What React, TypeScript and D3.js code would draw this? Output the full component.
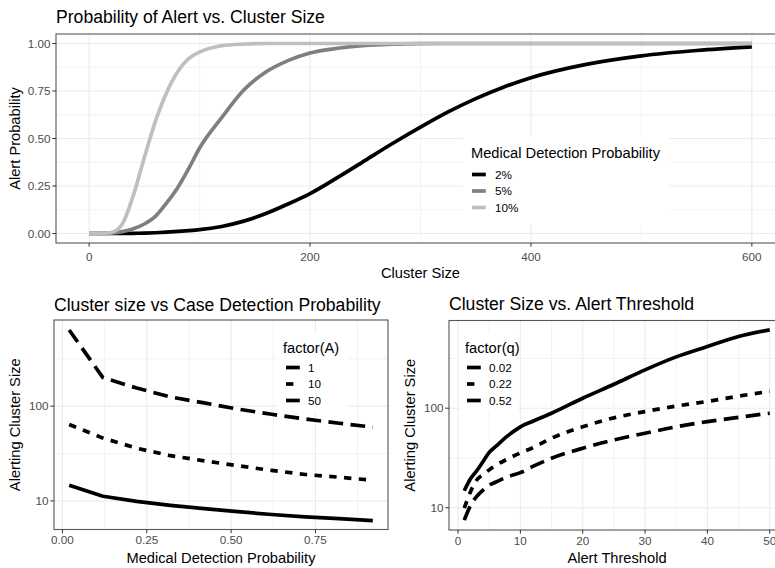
import * as d3 from "d3";

// --- top: probability of alert vs cluster size ---
const clusterSize = [0, 10, 20, 30, 40, 50, 60, 70, 80, 90, 100, 120, 140, 160, 180, 200, 225, 250, 275, 300, 325, 350, 375, 400, 450, 500, 550, 600];
const alertProb2 = [0, 0, 0, 0, 0.001, 0.002, 0.004, 0.007, 0.011, 0.015, 0.02, 0.037, 0.065, 0.105, 0.155, 0.21, 0.295, 0.385, 0.475, 0.56, 0.64, 0.71, 0.77, 0.82, 0.89, 0.935, 0.963, 0.982];
const alertProb5 = [0, 0, 0.002, 0.01, 0.025, 0.05, 0.09, 0.16, 0.24, 0.34, 0.45, 0.61, 0.755, 0.85, 0.91, 0.95, 0.975, 0.99, 0.996, 0.999, 1, 1, 1, 1, 1, 1, 1, 1];
const alertProb10 = [0, 0, 0.005, 0.05, 0.2, 0.4, 0.59, 0.74, 0.85, 0.92, 0.955, 0.988, 0.997, 1, 1, 1, 1, 1, 1, 1, 1, 1, 1, 1, 1, 1, 1, 1];
const detectionLabels = ["2%", "5%", "10%"];

// --- bottom left: cluster size vs detection probability ---
const detectionProb = [0.02, 0.12, 0.22, 0.32, 0.42, 0.52, 0.62, 0.72, 0.82, 0.92];
const clusterA1 = [14.6, 11.2, 9.9, 9.0, 8.3, 7.7, 7.2, 6.8, 6.5, 6.2];
const clusterA10 = [64, 46, 36, 30, 26.5, 23.5, 21, 19, 17.8, 16.5];
const clusterA50 = [635, 200, 155, 125, 108, 93, 82, 73, 66, 60];
const factorALabels = ["1", "10", "50"];

// --- bottom right: cluster size vs alert threshold ---
const alertThreshold = [1, 2, 3, 4, 5, 6, 8, 10, 12, 15, 20, 25, 30, 35, 40, 45, 50];
const clusterQ02 = [14.8, 19.5, 23.5, 29, 36, 41, 53, 65, 74, 89, 126, 174, 243, 328, 417, 525, 613];
const clusterQ22 = [9.9, 14.5, 19, 21.5, 24, 26.5, 31, 35.5, 40, 50, 65, 80, 92.5, 105, 117, 132, 148];
const clusterQ52 = [7.5, 10.5, 13, 15, 16.9, 18, 20.5, 22.5, 26, 31.4, 39.6, 48, 56, 65, 73.3, 81, 89];
const factorQLabels = ["0.02", "0.22", "0.52"];

const FONT = "'Liberation Sans', Arial, sans-serif";
const LW = 3.7;
const DASHES = ["none", "7.4 7.4", "14.8 7.4"];

type Series = { xs: number[]; ys: number[]; color: string; dash: string };

type PanelProps = {
  box: [number, number, number, number]; // left, top, right, bottom
  x: any;
  y: any;
  curve: any;
  xTicks: number[];
  xMinor: number[];
  yTicks: number[];
  yMinor: number[];
  xFmt: (v: number) => string;
  yFmt: (v: number) => string;
  xLabelY: number;
  title: string;
  titleY: number;
  xTitle: string;
  xTitleY: number;
  yTitle: string;
  yTitleX: number;
  series: Series[];
  legend: {
    title: string;
    labels: string[];
    bg: [number, number, number, number];
    titleX: number;
    titleY: number;
    keyX: number;
    keyY: number[];
    labelX: number;
  };
};

function Panel(p: PanelProps) {
  const [l, t, r, b] = p.box;
  const line = d3.line<[number, number]>()
    .x((d) => p.x(d[0]))
    .y((d) => p.y(d[1]))
    .curve(p.curve);
  const lg = p.legend;
  return (
    <g>
      <rect x={l} y={t} width={r - l} height={b - t} fill="white" />
      {p.xMinor.map((v) => (
        <line key={"xm" + v} x1={p.x(v)} x2={p.x(v)} y1={t} y2={b} stroke="#EBEBEB" strokeWidth={0.6} />
      ))}
      {p.yMinor.map((v) => (
        <line key={"ym" + v} x1={l} x2={r} y1={p.y(v)} y2={p.y(v)} stroke="#EBEBEB" strokeWidth={0.6} />
      ))}
      {p.xTicks.map((v) => (
        <line key={"xg" + v} x1={p.x(v)} x2={p.x(v)} y1={t} y2={b} stroke="#EBEBEB" strokeWidth={1.1} />
      ))}
      {p.yTicks.map((v) => (
        <line key={"yg" + v} x1={l} x2={r} y1={p.y(v)} y2={p.y(v)} stroke="#EBEBEB" strokeWidth={1.1} />
      ))}
      {p.series.map((s, i) => (
        <path
          key={"s" + i}
          d={line(s.xs.map((xv, j) => [xv, s.ys[j]] as [number, number])) || ""}
          fill="none"
          stroke={s.color}
          strokeWidth={LW}
          strokeDasharray={s.dash}
          strokeLinecap="butt"
          strokeLinejoin="round"
        />
      ))}
      <rect x={lg.bg[0]} y={lg.bg[1]} width={lg.bg[2] - lg.bg[0]} height={lg.bg[3] - lg.bg[1]} fill="white" />
      <text x={lg.titleX} y={lg.titleY} fontSize={14.67} fill="black">{lg.title}</text>
      {lg.labels.map((lab, i) => (
        <g key={"lg" + i}>
          <line
            x1={lg.keyX}
            x2={lg.keyX + 13.8}
            y1={lg.keyY[i]}
            y2={lg.keyY[i]}
            stroke={p.series[i].color}
            strokeWidth={LW}
            strokeDasharray={p.series[i].dash}
          />
          <text x={lg.labelX} y={lg.keyY[i] + 4.3} fontSize={11.7} fill="black">{lab}</text>
        </g>
      ))}
      <rect x={l} y={t} width={r - l} height={b - t} fill="none" stroke="#555" strokeWidth={1.1} />
      {p.xTicks.map((v) => (
        <g key={"xt" + v}>
          <line x1={p.x(v)} x2={p.x(v)} y1={b} y2={b + 3.7} stroke="#333" strokeWidth={1} />
          <text x={p.x(v)} y={p.xLabelY} fontSize={11.7} fill="#4D4D4D" textAnchor="middle">{p.xFmt(v)}</text>
        </g>
      ))}
      {p.yTicks.map((v) => (
        <g key={"yt" + v}>
          <line x1={l - 3.7} x2={l} y1={p.y(v)} y2={p.y(v)} stroke="#333" strokeWidth={1} />
          <text x={l - 5.5} y={p.y(v)} dy="0.36em" fontSize={11.7} fill="#4D4D4D" textAnchor="end">{p.yFmt(v)}</text>
        </g>
      ))}
      <text x={l} y={p.titleY} fontSize={17.6} fill="black">{p.title}</text>
      <text x={(l + r) / 2} y={p.xTitleY} fontSize={14.67} fill="black" textAnchor="middle">{p.xTitle}</text>
      <text
        transform={`translate(${p.yTitleX},${(t + b) / 2}) rotate(-90)`}
        fontSize={14.67}
        fill="black"
        textAnchor="middle"
      >
        {p.yTitle}
      </text>
    </g>
  );
}

export default function App() {
  // top panel
  const topBox: [number, number, number, number] = [56, 34, 785, 243];
  const xTop = d3.scaleLinear().domain([-30, 630]).range([topBox[0], topBox[2]]);
  const yTop = d3.scaleLinear().domain([-0.05, 1.05]).range([topBox[3], topBox[1]]);

  // bottom-left panel
  const blBox: [number, number, number, number] = [54, 320, 388, 529.5];
  const xBL = d3.scaleLinear().domain([-0.025, 0.965]).range([blBox[0], blBox[2]]);
  const yBL = d3.scaleLog().domain([5.0, 809]).range([blBox[3], blBox[1]]);

  // bottom-right panel
  const brBox: [number, number, number, number] = [449, 320.5, 785, 530];
  const xBR = d3.scaleLinear().domain([-1.45, 52.45]).range([brBox[0], brBox[2]]);
  const yBR = d3.scaleLog().domain([5.97, 761]).range([brBox[3], brBox[1]]);

  const greys = ["#000000", "#7F7F7F", "#BFBFBF"];
  const f2 = d3.format(".2f");
  const fInt = (v: number) => String(v);

  return (
    <svg
      width={775}
      height={568}
      style={{ position: "absolute", left: 0, top: 0, background: "white", fontFamily: FONT }}
    >
      <rect width={775} height={568} fill="white" />
      <Panel
        box={topBox}
        x={xTop}
        y={yTop}
        curve={d3.curveMonotoneX}
        xTicks={[0, 200, 400, 600]}
        xMinor={[100, 300, 500]}
        yTicks={[0, 0.25, 0.5, 0.75, 1]}
        yMinor={[0.125, 0.375, 0.625, 0.875]}
        xFmt={fInt}
        yFmt={f2}
        xLabelY={261}
        title="Probability of Alert vs. Cluster Size"
        titleY={23}
        xTitle="Cluster Size"
        xTitleY={278}
        yTitle="Alert Probability"
        yTitleX={20}
        series={[
          { xs: clusterSize, ys: alertProb2, color: greys[0], dash: "none" },
          { xs: clusterSize, ys: alertProb5, color: greys[1], dash: "none" },
          { xs: clusterSize, ys: alertProb10, color: greys[2], dash: "none" },
        ]}
        legend={{
          title: "Medical Detection Probability",
          labels: detectionLabels,
          bg: [463, 137, 669, 224],
          titleX: 471,
          titleY: 157.5,
          keyX: 472,
          keyY: [174.5, 191, 207.5],
          labelX: 495,
        }}
      />
      <Panel
        box={blBox}
        x={xBL}
        y={yBL}
        curve={d3.curveLinear}
        xTicks={[0, 0.25, 0.5, 0.75]}
        xMinor={[0.125, 0.375, 0.625, 0.875]}
        yTicks={[10, 100]}
        yMinor={[Math.sqrt(1000), Math.sqrt(100000)]}
        xFmt={f2}
        yFmt={fInt}
        xLabelY={543.5}
        title="Cluster size vs Case Detection Probability"
        titleY={310.5}
        xTitle="Medical Detection Probability"
        xTitleY={563.3}
        yTitle="Alerting Cluster Size"
        yTitleX={20}
        series={[
          { xs: detectionProb, ys: clusterA1, color: "black", dash: DASHES[0] },
          { xs: detectionProb, ys: clusterA10, color: "black", dash: DASHES[1] },
          { xs: detectionProb, ys: clusterA50, color: "black", dash: DASHES[2] },
        ]}
        legend={{
          title: "factor(A)",
          labels: factorALabels,
          bg: [277, 333, 347, 412],
          titleX: 283,
          titleY: 352.7,
          keyX: 286,
          keyY: [367.5, 384, 400.5],
          labelX: 308,
        }}
      />
      <Panel
        box={brBox}
        x={xBR}
        y={yBR}
        curve={d3.curveMonotoneX}
        xTicks={[0, 10, 20, 30, 40, 50]}
        xMinor={[5, 15, 25, 35, 45]}
        yTicks={[10, 100]}
        yMinor={[Math.sqrt(1000), Math.sqrt(100000)]}
        xFmt={fInt}
        yFmt={fInt}
        xLabelY={544.5}
        title="Cluster Size vs. Alert Threshold"
        titleY={310}
        xTitle="Alert Threshold"
        xTitleY={563.3}
        yTitle="Alerting Cluster Size"
        yTitleX={415}
        series={[
          { xs: alertThreshold, ys: clusterQ02, color: "black", dash: DASHES[0] },
          { xs: alertThreshold, ys: clusterQ22, color: "black", dash: DASHES[1] },
          { xs: alertThreshold, ys: clusterQ52, color: "black", dash: DASHES[2] },
        ]}
        legend={{
          title: "factor(q)",
          labels: factorQLabels,
          bg: [460, 333, 518, 412],
          titleX: 465,
          titleY: 352.7,
          keyX: 467,
          keyY: [367.5, 384, 400.5],
          labelX: 489,
        }}
      />
    </svg>
  );
}
